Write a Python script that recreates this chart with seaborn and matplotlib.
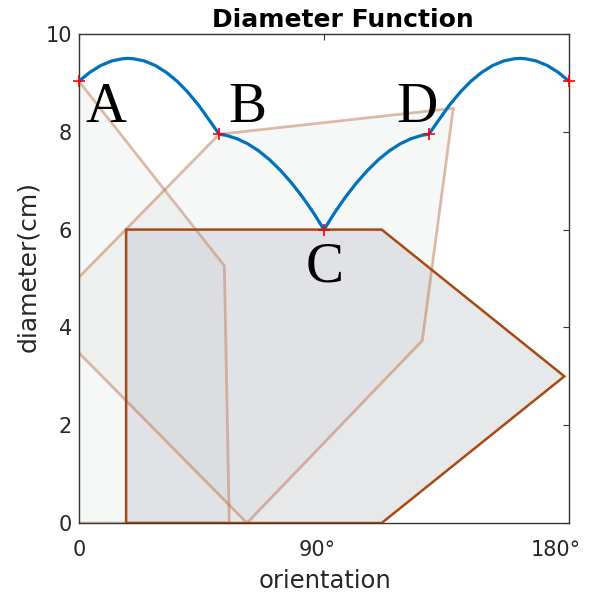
import matplotlib
matplotlib.use("Agg")
import matplotlib.pyplot as plt
import matplotlib.transforms as mtransforms
import seaborn as sns

# --- Datos --- #

# funcion diametro: orientacion (grados) y diametro (cm)
angulo = [0, 4, 8, 12, 16, 18, 20, 24, 28, 32, 36, 40, 44, 48, 51.5,
          54, 58, 62, 66, 70, 74, 78, 82, 86, 90,
          94, 98, 102, 106, 110, 114, 118, 122, 126, 128.5,
          132, 136, 140, 144, 148, 152, 156, 160, 162, 164, 168, 172, 176, 180]
diametro = [9.035, 9.218, 9.356, 9.448, 9.494, 9.500, 9.494, 9.448, 9.356, 9.218, 9.035, 8.808, 8.539, 8.227, 7.95,
            7.928, 7.860, 7.754, 7.610, 7.429, 7.212, 6.960, 6.674, 6.355, 6.0,
            6.355, 6.674, 6.960, 7.212, 7.429, 7.610, 7.754, 7.860, 7.928, 7.95,
            8.227, 8.539, 8.808, 9.035, 9.218, 9.356, 9.448, 9.494, 9.500, 9.494, 9.448, 9.356, 9.218, 9.035]

# puntos de cambio (A, B, C, D y el final)
puntos_x = [0, 51.5, 90, 128.5, 180]
puntos_y = [9.035, 7.95, 6.0, 7.95, 9.035]

etiquetas = ["A", "B", "C", "D"]

# poligono principal (orientacion C)
poli_x = [17.3, 17.3, 111.2, 178.3, 111.2]
poli_y = [0.0, 6.0, 6.0, 3.0, 0.0]

# copias giradas del poligono (orientaciones A y B)
copia_a_x = [0.0, 53.4, 55.2, -52.0, -50.7]
copia_a_y = [9.03, 5.26, 0.0, 0.0, 5.14]
copia_b_x = [51.5, 137.5, 126.1, 61.7, -13.7]
copia_b_y = [7.95, 8.48, 3.73, 0.0, 4.25]

ticks_x = [0, 90, 180]
ticks_x_txt = ["0", "90°", "180°"]
ticks_y = [0, 2, 4, 6, 8, 10]


# --- Grafico --- #

def grafico_diametro(nombre="out.png"):
    sns.set_style("white")
    plt.rcParams["font.family"] = ["DejaVu Sans"]
    fig = plt.figure(figsize=(6, 5.94), dpi=100)
    ax = fig.add_axes([0.1317, 0.1195, 0.8166, 0.8233])

    gris = (0.733, 0.745, 0.769)
    marron = (0.651, 0.290, 0.071)
    borde_copia = (0.72, 0.42, 0.25, 0.45)

    # relleno del poligono principal
    ax.fill(poli_x, poli_y, facecolor=gris + (0.34,), edgecolor="none", zorder=1)

    # copias semitransparentes
    for cx, cy in [(copia_a_x, copia_a_y), (copia_b_x, copia_b_y)]:
        ax.fill(cx, cy, facecolor=gris + (0.12,), edgecolor=borde_copia,
                linewidth=2.0, zorder=2)

    # borde del principal
    ax.fill(poli_x, poli_y, fill=False, edgecolor=marron, linewidth=1.8, zorder=3)

    sns.lineplot(x=angulo, y=diametro, color="#0072BD", linewidth=2.3, ax=ax, zorder=4)
    sns.scatterplot(x=puntos_x, y=puntos_y, marker="+", color="red", s=70,
                    linewidth=1.2, ax=ax, zorder=5, clip_on=False)

    letras_x = [9.9, 61.7, 90.4, 124.0]
    letras_y = [8.2, 8.2, 4.93, 8.2]
    for letra, lx, ly in zip(etiquetas, letras_x, letras_y):
        ax.text(lx, ly, letra, family="Liberation Serif", fontsize=41,
                ha="center", va="baseline", color="black", zorder=6)

    ax.set_xlim(0, 180)
    ax.set_ylim(0, 10)
    ax.set_xticks(ticks_x)
    ax.set_xticklabels(ticks_x_txt)
    ax.set_yticks(ticks_y)

    for lado in ax.spines.values():
        lado.set_visible(True)
        lado.set_color("#333333")
        lado.set_linewidth(1.0)

    ax.tick_params(direction="in", top=True, right=True, length=4.3, width=0.8,
                   color="#333333", labelcolor="#262626", labelsize=15)
    ax.tick_params(axis="x", pad=12.5)
    ax.tick_params(axis="y", pad=5)

    # las etiquetas con grado quedan algo a la izquierda
    for lbl, dx in zip(ax.get_xticklabels(), [0, -6.5, -13]):
        lbl.set_transform(lbl.get_transform() +
                          mtransforms.ScaledTranslation(dx / 100, 0, fig.dpi_scale_trans))

    ax.set_xlabel("orientation", fontsize=17.5, color="#262626")
    ax.set_ylabel("diameter(cm)", fontsize=18, color="#262626")
    ax.xaxis.set_label_coords(0.503, -0.095)
    ax.yaxis.set_label_coords(-0.079, 0.5245)

    ax.set_title("Diameter Function", fontsize=18, fontweight="bold",
                 x=0.539, y=1.015, pad=0, color="black")

    fig.savefig(nombre, dpi=100)


grafico_diametro()
